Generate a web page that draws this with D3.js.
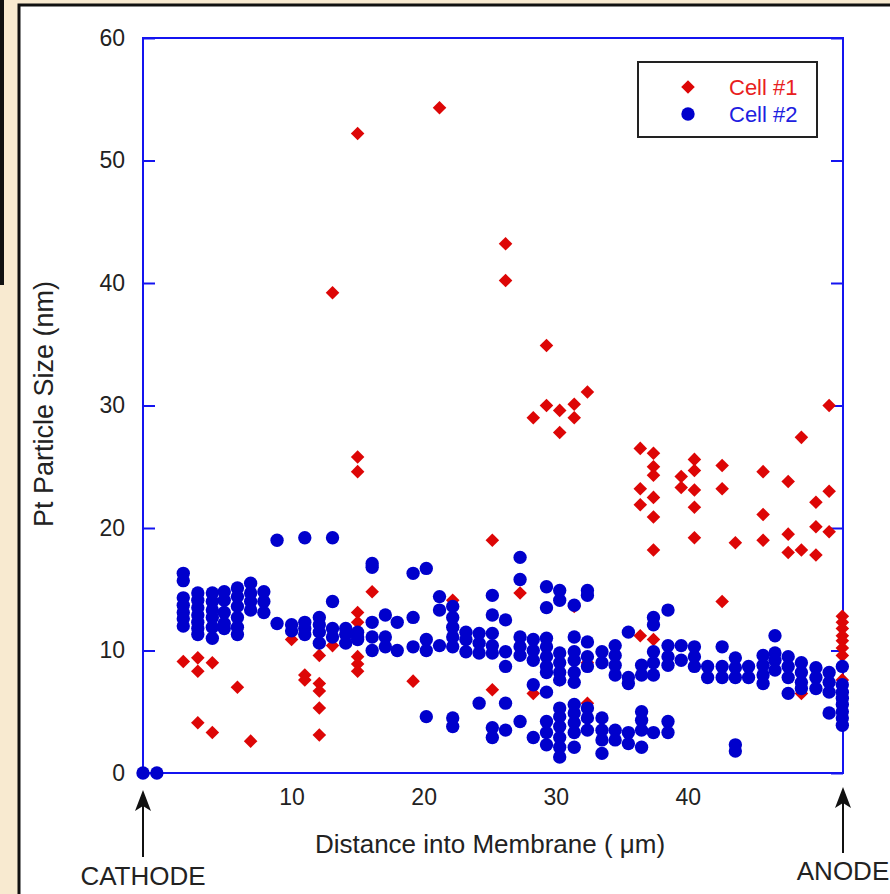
<!DOCTYPE html>
<html lang="en">
<head>
<meta charset="UTF-8">
<title>Pt Particle Size</title>
<script src="https://cdn.jsdelivr.net/npm/d3@7"></script>
<style>
  body { margin: 0; background: #f8ead0; }
  text { font-family: "Liberation Sans", Arial, sans-serif; }
</style>
</head>
<body>
<svg></svg>
<script>
    const width = 890, height = 894;

    // depth columns (um) and the particle sizes (nm) measured in each column
    const cell1Depth = [1.8, 2.9, 4.0, 5.9, 6.9, 10.0, 11.0, 12.1, 13.1, 15.0, 16.1, 19.2, 21.2, 22.2, 25.2, 26.2, 27.3, 28.3, 29.3, 30.3, 31.4, 32.4,
        36.4, 37.4, 39.5, 40.5, 42.6, 43.6, 45.7, 47.6, 48.6, 49.7, 50.7, 51.7];
    const cell1Size = [
        [9.1], [9.4, 8.3, 4.1], [9.0, 3.3], [7.0], [2.6], [10.9], [8.0, 7.6], [9.6, 7.3, 6.7, 5.3, 3.1], [39.2, 10.4],
        [52.2, 25.8, 24.6, 13.1, 12.3, 9.5, 8.9, 8.3], [14.8], [7.5], [54.3], [14.1], [19.0, 6.8], [43.2, 40.2], [14.7],
        [29.0, 6.5], [34.9, 30.0], [29.6, 27.8, 7.6], [30.1, 29.0, 13.6], [31.1, 9.0, 5.7],
        [26.5, 23.2, 21.9, 11.2], [26.1, 25.0, 24.3, 22.5, 20.9, 18.2, 10.9], [24.2, 23.3], [25.6, 24.7, 23.1, 21.7, 19.2],
        [25.1, 23.2, 14.0], [18.8], [24.6, 21.1, 19.0], [23.8, 19.5, 18.0], [27.4, 18.2, 6.5], [22.1, 20.1, 17.8],
        [30.0, 23.0, 19.7], [12.8, 12.3, 11.8, 11.2, 10.8, 10.2, 9.6, 7.6]
    ];

    const cell2Depth = [-1.25, -0.2, 1.8, 2.9, 4.0, 4.9, 5.9, 6.9, 7.9, 8.9, 10.0, 11.0, 12.1, 13.1, 14.1, 15.0, 16.1, 17.1, 18.0, 19.2,
        20.2, 21.2, 22.2, 23.2, 24.2, 25.2, 26.2, 27.3, 28.3, 29.3, 30.3, 31.4, 32.4, 33.5, 34.5, 35.5, 36.5, 37.4, 38.5,
        39.5, 40.5, 41.5, 42.6, 43.6, 44.6, 45.7, 46.6, 47.6, 48.6, 49.7, 50.7, 51.7];
    const cell2Size = [
        [0], [0],
        [16.3, 15.7, 14.3, 13.7, 13.1, 12.6, 12.0],
        [14.7, 14.1, 13.5, 12.9, 12.3, 11.8, 11.3],
        [14.7, 14.0, 13.3, 12.7, 11.9, 11.0],
        [14.8, 14.1, 13.1, 12.2, 11.8],
        [15.1, 14.4, 13.6, 12.7, 11.9, 11.3],
        [15.5, 14.7, 14.0, 13.3],
        [14.8, 14.0, 13.1],
        [19.0, 12.2],
        [12.1, 11.6],
        [19.2, 12.3, 11.8, 11.3],
        [12.7, 12.1, 11.5, 10.6],
        [19.2, 14.0, 11.8, 11.1],
        [11.8, 11.3, 10.6],
        [11.5, 11.1, 10.9],
        [17.1, 16.8, 12.3, 11.1, 10.0],
        [12.9, 11.1, 10.3],
        [12.3, 10.0],
        [16.3, 12.7, 10.3],
        [16.7, 10.9, 10.0, 4.6],
        [14.4, 13.3, 10.4],
        [13.6, 12.7, 11.9, 11.1, 10.3, 4.5, 3.8],
        [11.5, 10.9, 9.9],
        [11.4, 10.6, 9.8, 5.7],
        [14.5, 12.9, 11.4, 10.4, 9.8, 3.7, 2.9],
        [12.5, 9.9, 8.7, 5.7, 3.5],
        [17.6, 15.8, 11.1, 10.3, 9.6, 4.2],
        [10.9, 10.0, 9.2, 7.2, 2.9],
        [15.2, 13.5, 11.0, 10.3, 9.5, 8.7, 8.2, 6.6, 4.2, 3.3, 2.3],
        [14.9, 14.1, 9.8, 9.0, 8.2, 7.6, 5.3, 4.6, 3.8, 2.9, 2.1, 1.3],
        [13.7, 11.1, 9.9, 9.2, 8.2, 7.4, 5.6, 4.9, 4.1, 3.3, 2.1],
        [14.9, 14.5, 10.7, 9.5, 8.7, 5.3, 4.5, 3.5],
        [9.9, 9.0, 4.5, 3.5, 2.7, 1.6],
        [10.4, 9.6, 8.8, 8.0, 3.5, 2.7],
        [11.5, 7.8, 7.3, 3.3, 2.4],
        [8.8, 8.0, 5.0, 4.3, 3.5, 2.1],
        [12.7, 12.1, 9.9, 9.0, 8.0, 3.3],
        [13.3, 10.4, 9.5, 8.8, 4.2, 3.3],
        [10.4, 9.2],
        [10.3, 9.5, 8.7],
        [8.7, 7.8],
        [10.3, 8.7, 7.8],
        [9.4, 8.6, 7.8, 2.3, 1.8],
        [8.7, 7.8],
        [9.6, 8.8, 8.0, 7.3],
        [11.2, 9.8, 9.2, 8.4],
        [9.5, 8.7, 7.8, 6.5],
        [9.0, 8.2, 7.4, 6.9],
        [8.6, 7.8, 6.9],
        [8.2, 7.4, 6.6, 4.9],
        [8.7, 7.2, 6.6, 6.1, 5.6, 5.0, 4.5, 3.9]
    ];

    const yTicks = [0, 10, 20, 30, 40, 50, 60];
    const xTicks = [10, 20, 30, 40];
    const seriesNames = ['Cell #1', 'Cell #2'];

    // flatten columns into points
    const flat = (depths, sizes) => depths.flatMap((d, i) => sizes[i].map(s => ({ depth: d, size: s })));
    const cell1 = flat(cell1Depth, cell1Size);
    const cell2 = flat(cell2Depth, cell2Size);

    const frameBlue = '#1414f0';
    const red = '#dd0606';
    const blue = '#0000cc';

    const svg = d3.select('svg')
        .attr('width', width)
        .attr('height', height);

    // parchment background, dark window edge, white panel
    svg.append('rect').attr('width', width).attr('height', height).attr('fill', '#f8ead0');
    svg.append('rect').attr('x', 0).attr('y', 0).attr('width', 4).attr('height', 285).attr('fill', '#111');
    svg.append('rect')
        .attr('x', 19).attr('y', 5)
        .attr('width', 900).attr('height', 900)
        .attr('fill', 'white')
        .attr('stroke', '#111')
        .attr('stroke-width', 3);

    const x = d3.scaleLinear().domain([-1.25, 51.75]).range([143, 843]);
    const y = d3.scaleLinear().domain([0, 60]).range([773, 38]);

    // y axis (left) with inward ticks
    const yAxis = svg.append('g')
        .attr('transform', `translate(${x.range()[0]},0)`)
        .call(d3.axisLeft(y).tickValues(yTicks).tickSize(-12).tickPadding(18).tickFormat(d3.format('d')));
    yAxis.select('.domain').remove();
    yAxis.selectAll('line').attr('stroke', frameBlue).attr('stroke-width', 2);
    yAxis.selectAll('text')
        .attr('fill', '#222')
        .style('font-size', '23px')
        .style('font-family', '"Liberation Sans", Arial, sans-serif');

    // right side ticks only
    const yAxisR = svg.append('g')
        .attr('transform', `translate(${x.range()[1]},0)`)
        .call(d3.axisRight(y).tickValues(yTicks).tickSize(-12).tickFormat(''));
    yAxisR.select('.domain').remove();
    yAxisR.selectAll('line').attr('stroke', frameBlue).attr('stroke-width', 2);

    // x axis: labels only
    const xAxis = svg.append('g')
        .attr('transform', `translate(0,${y.range()[0]})`)
        .call(d3.axisBottom(x).tickValues(xTicks).tickSize(0).tickPadding(16));
    xAxis.select('.domain').remove();
    xAxis.selectAll('text')
        .attr('fill', '#222')
        .style('font-size', '23px')
        .style('font-family', '"Liberation Sans", Arial, sans-serif');

    // plot frame
    svg.append('rect')
        .attr('x', x.range()[0]).attr('y', y.range()[1])
        .attr('width', x.range()[1] - x.range()[0])
        .attr('height', y.range()[0] - y.range()[1])
        .attr('fill', 'none')
        .attr('stroke', frameBlue)
        .attr('stroke-width', 2);

    const diamond = d3.symbol().type(d3.symbolSquare).size(92);
    const dot = d3.symbol().type(d3.symbolCircle).size(140);

    // Cell #1 diamonds first, Cell #2 dots drawn over them
    svg.append('g')
        .selectAll('path')
        .data(cell1)
        .join('path')
        .attr('d', diamond)
        .attr('transform', d => `translate(${x(d.depth)},${y(d.size)}) rotate(45)`)
        .attr('fill', red);

    svg.append('g')
        .selectAll('path')
        .data(cell2)
        .join('path')
        .attr('d', dot)
        .attr('transform', d => `translate(${x(d.depth)},${y(d.size)})`)
        .attr('fill', blue);

    // axis titles
    svg.append('text')
        .attr('x', 490).attr('y', 853)
        .attr('text-anchor', 'middle')
        .attr('fill', '#222')
        .style('font-size', '26px')
        .text('Distance into Membrane ( μm)');

    svg.append('text')
        .attr('transform', 'translate(53,404) rotate(-90)')
        .attr('text-anchor', 'middle')
        .attr('fill', '#222')
        .style('font-size', '27px')
        .text('Pt Particle Size (nm)');

    // cathode / anode markers
    const ends = [
        { name: 'CATHODE', depth: -1.25, top: 790, bottom: 857, label: 885 },
        { name: 'ANODE', depth: 51.75, top: 787, bottom: 853, label: 880 }
    ];
    ends.forEach(e => {
        const cx = x(e.depth);
        svg.append('line')
            .attr('x1', cx).attr('x2', cx)
            .attr('y1', e.top + 12).attr('y2', e.bottom)
            .attr('stroke', '#111').attr('stroke-width', 2);
        svg.append('path')
            .attr('d', `M${cx},${e.top} L${cx + 8},${e.top + 21} L${cx},${e.top + 16} L${cx - 8},${e.top + 21} Z`)
            .attr('fill', '#111');
        svg.append('text')
            .attr('x', cx).attr('y', e.label)
            .attr('text-anchor', 'middle')
            .attr('fill', '#222')
            .style('font-size', '26px')
            .text(e.name);
    });

    // legend
    const legend = svg.append('g');
    legend.append('rect')
        .attr('x', 638).attr('y', 62)
        .attr('width', 179).attr('height', 75)
        .attr('fill', 'white')
        .attr('stroke', '#222')
        .attr('stroke-width', 2);
    const legendRows = legend.selectAll('g')
        .data(seriesNames)
        .join('g')
        .attr('transform', (d, i) => `translate(688,${87 + i * 27})`);
    legendRows.append('path')
        .attr('d', (d, i) => i === 0 ? diamond() : dot())
        .attr('transform', (d, i) => i === 0 ? 'rotate(45)' : '')
        .attr('fill', (d, i) => i === 0 ? red : blue);
    legendRows.append('text')
        .attr('x', 41)
        .attr('dy', '0.36em')
        .attr('fill', (d, i) => i === 0 ? '#e82020' : '#2020e0')
        .style('font-size', '22px')
        .text(d => d);
</script>
</body>
</html>
